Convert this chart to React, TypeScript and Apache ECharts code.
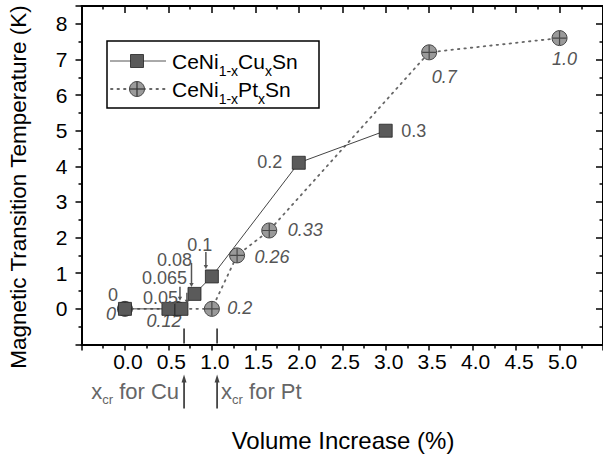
import React, { useEffect, useRef } from 'react';
import * as echarts from 'echarts';

// ---- data ----
const cuConc = ['0', '0.05', '0.065', '0.08', '0.1', '0.2', '0.3'];
const cuX = [0, 0.5, 0.65, 0.8, 1.0, 2.0, 3.0];
const cuT = [0, 0, 0, 0.42, 0.91, 4.1, 5.0];

const ptConc = ['0', '0.12', '0.2', '0.26', '0.33', '0.7', '1.0'];
const ptX = [0, 0.6, 1.0, 1.29, 1.66, 3.5, 5.0];
const ptT = [0, 0, 0, 1.5, 2.2, 7.2, 7.6];

const xcrCu = 0.68;
const xcrPt = 1.06;

// ---- styles (label placement) ----
const cuLabelOffset = [[-12, -14], [-8, -11], [-17, -31], [-20, -34], [-12, -31], [-29, -1], [28, 0]];
const ptLabelOffset = [[-14, 5], [-13, 12], [28, -1], [35, 2], [36, 0], [15, 25], [5, 21]];
// leader arrows for Cu labels: [pointIndex, dx, dyStart, dyEnd]
const cuLeaders = [[1, 18.5, -16, -5], [2, -1.5, -22, -8], [3, -3, -31, -7], [4, -6, -24.5, -7.5]];

const FONT = '"Liberation Sans", Arial, Helvetica, sans-serif';
const LABEL_GRAY = '#555';

const measureCtx = typeof document !== 'undefined' ? document.createElement('canvas').getContext('2d') : null;
function measure(text: string, size: number): number {
  if (!measureCtx) return text.length * size * 0.55;
  measureCtx.font = `${size}px ${FONT}`;
  return measureCtx.measureText(text).width;
}

// builds text pieces with subscripts: parts = [[text, isSub], ...]
function subText(
  parts: [string, boolean][],
  x: number,
  y: number,
  align: 'left' | 'right',
  mainSize: number,
  subSize: number,
  drop: number,
  fill: string,
  z: number
) {
  const widths = parts.map(([t, s]) => measure(t, s ? subSize : mainSize));
  const total = widths.reduce((a, b) => a + b, 0);
  let cx = align === 'left' ? x : x - total;
  const out: any[] = [];
  parts.forEach(([t, s], i) => {
    out.push({
      type: 'text',
      z,
      x: cx,
      y: s ? y + drop : y,
      style: {
        text: t,
        font: `${s ? subSize : mainSize}px ${FONT}`,
        fill,
        align: 'left',
        verticalAlign: 'middle',
      },
    });
    cx += widths[i];
  });
  return out;
}

export default function App() {
  const ref = useRef<HTMLDivElement>(null);
  useEffect(() => {
    if (!ref.current) return;
    const chart = echarts.init(ref.current, undefined, { renderer: 'svg' });

    const axisLine = { show: true, onZero: false, lineStyle: { color: '#000', width: 2 } };
    const xCommon = {
      type: 'value' as const,
      min: -0.5,
      max: 5.5,
      interval: 0.5,
      splitLine: { show: false },
      axisLine,
      minorTick: { show: true, splitNumber: 2, length: 4, lineStyle: { color: '#000', width: 1.5 } },
      minorSplitLine: { show: false },
    };
    const yCommon = {
      type: 'value' as const,
      min: -1,
      max: 8.5,
      interval: 1,
      splitLine: { show: false },
      axisLine,
      minorTick: { show: true, splitNumber: 2, length: 3, lineStyle: { color: '#000', width: 1.5 } },
      minorSplitLine: { show: false },
    };

    chart.setOption({
      animation: false,
      backgroundColor: '#fff',
      grid: { left: 81.5, top: 6, width: 522, height: 338.5, containLabel: false },
      xAxis: [
        {
          ...xCommon,
          position: 'bottom',
          axisTick: { show: true, inside: false, length: 6, lineStyle: { color: '#000', width: 1.5 } },
          axisLabel: {
            show: true,
            margin: 6,
            fontSize: 21,
            fontFamily: FONT,
            color: '#000',
            padding: [0, 0, 0, 6],
            showMinLabel: false,
            showMaxLabel: false,
            formatter: (v: number) => v.toFixed(1),
          },
        },
        {
          ...xCommon,
          position: 'top',
          axisTick: { show: true, inside: true, length: 7, lineStyle: { color: '#000', width: 1.5 } },
          minorTick: { show: true, splitNumber: 2, length: 3.5, lineStyle: { color: '#000', width: 1.5 } },
          axisLabel: { show: false },
        },
      ],
      yAxis: [
        {
          ...yCommon,
          position: 'left',
          axisTick: { show: true, inside: false, length: 6, lineStyle: { color: '#000', width: 1.5 } },
          axisLabel: {
            show: true,
            margin: 14,
            fontSize: 21,
            fontFamily: FONT,
            color: '#000',
            showMinLabel: false,
            showMaxLabel: false,
            formatter: (v: number) => (Number.isInteger(v) ? String(v) : ''),
          },
        },
        {
          ...yCommon,
          position: 'right',
          axisTick: { show: true, inside: true, length: 7, lineStyle: { color: '#000', width: 1.5 } },
          minorTick: { show: true, splitNumber: 2, length: 3.5, lineStyle: { color: '#000', width: 1.5 } },
          axisLabel: { show: false },
        },
      ],
      series: [
        {
          name: 'Pt',
          type: 'line',
          z: 2,
          data: ptX.map((x, i) => ({
            value: [x, ptT[i]],
            label: { offset: ptLabelOffset[i] },
          })),
          symbol: 'circle',
          symbolSize: 15,
          itemStyle: { color: '#9a9a9a', borderColor: '#444', borderWidth: 1 },
          lineStyle: { color: '#666', width: 1.8, type: [1.5, 5], cap: 'round' },
          label: {
            show: true,
            position: 'inside',
            align: 'center',
            verticalAlign: 'middle',
            fontSize: 18,
            fontStyle: 'italic',
            fontFamily: FONT,
            color: LABEL_GRAY,
            formatter: (p: any) => ptConc[p.dataIndex],
          },
        },
        {
          name: 'PtCross',
          type: 'scatter',
          z: 3,
          silent: true,
          data: ptX.map((x, i) => [x, ptT[i]]),
          symbol: 'path://M0,6.4h14v1.2h-14z M6.4,0h1.2v14h-1.2z',
          symbolSize: 14,
          itemStyle: { color: '#333' },
        },
        {
          name: 'Cu',
          type: 'line',
          z: 4,
          data: cuX.map((x, i) => ({
            value: [x, cuT[i]],
            label: { offset: cuLabelOffset[i] },
          })),
          symbol: 'rect',
          symbolSize: 13,
          itemStyle: { color: '#5a5a5a', borderColor: '#222', borderWidth: 0.8 },
          lineStyle: { color: '#444', width: 1 },
          label: {
            show: true,
            position: 'inside',
            align: 'center',
            verticalAlign: 'middle',
            fontSize: 18,
            fontFamily: FONT,
            color: LABEL_GRAY,
            formatter: (p: any) => cuConc[p.dataIndex],
          },
        },
      ],
    });

    // ---- annotations ----
    const toPx = (x: number, y: number) => chart.convertToPixel({ gridIndex: 0 }, [x, y]) as number[];
    const axisY = toPx(0, -1)[1];
    const g: any[] = [];

    // leader arrows
    cuLeaders.forEach(([idx, dx, y0, y1]) => {
      const p = toPx(cuX[idx], cuT[idx]);
      const x = p[0] + dx;
      g.push({
        type: 'line',
        z: 10,
        shape: { x1: x, y1: p[1] + y0, x2: x, y2: p[1] + y1 - 3 },
        style: { stroke: '#555', lineWidth: 1.5 },
      });
      g.push({
        type: 'polygon',
        z: 10,
        shape: { points: [[x - 2.2, p[1] + y1 - 4], [x + 2.2, p[1] + y1 - 4], [x, p[1] + y1]] },
        style: { fill: '#555' },
      });
    });

    // x_cr arrows
    [xcrCu, xcrPt].forEach((xv) => {
      const x = toPx(xv, 0)[0];
      g.push({
        type: 'line',
        z: 10,
        shape: { x1: x, y1: axisY - 16, x2: x, y2: axisY - 1 },
        style: { stroke: '#444', lineWidth: 1.8 },
      });
      g.push({
        type: 'line',
        z: 10,
        shape: { x1: x, y1: axisY + 64, x2: x, y2: axisY + 36 },
        style: { stroke: '#444', lineWidth: 1.8 },
      });
      g.push({
        type: 'polygon',
        z: 10,
        shape: { points: [[x - 2.5, axisY + 38], [x + 2.5, axisY + 38], [x, axisY + 30]] },
        style: { fill: '#444' },
      });
    });

    const xcrCuPx = toPx(xcrCu, 0)[0];
    const xcrPtPx = toPx(xcrPt, 0)[0];
    const xcrY = axisY + 47;
    g.push(
      ...subText([['x', false], ['cr', true], [' for Cu', false]], xcrCuPx - 5, xcrY, 'right', 22, 13, 8, '#666', 10)
    );
    g.push(
      ...subText([['x', false], ['cr', true], [' for Pt', false]], xcrPtPx + 4, xcrY, 'left', 22, 13, 8, '#666', 10)
    );

    // axis titles
    g.push({
      type: 'text',
      z: 10,
      x: 18,
      y: 187,
      rotation: Math.PI / 2,
      style: {
        text: 'Magnetic Transition Temperature (K)',
        font: `22.5px ${FONT}`,
        fill: '#000',
        align: 'center',
        verticalAlign: 'middle',
      },
    });
    g.push({
      type: 'text',
      z: 10,
      x: 343,
      y: 440,
      style: {
        text: 'Volume Increase (%)',
        font: `24px ${FONT}`,
        fill: '#000',
        align: 'center',
        verticalAlign: 'middle',
      },
    });

    // legend
    const lg = { x: 107, y: 41, w: 212, h: 67 };
    g.push({
      type: 'rect',
      z: 20,
      shape: { x: lg.x, y: lg.y, width: lg.w, height: lg.h },
      style: { fill: '#fff', stroke: '#000', lineWidth: 1.5 },
    });
    const r1 = 61;
    const r2 = 89;
    g.push({ type: 'line', z: 21, shape: { x1: 110, y1: r1, x2: 166, y2: r1 }, style: { stroke: '#555', lineWidth: 1 } });
    g.push({
      type: 'rect', z: 22,
      shape: { x: 137 - 6.5, y: r1 - 6.5, width: 13, height: 13 },
      style: { fill: '#5a5a5a', stroke: '#222', lineWidth: 0.8 },
    });
    g.push({
      type: 'line', z: 21, shape: { x1: 111, y1: r2, x2: 166, y2: r2 },
      style: { stroke: '#666', lineWidth: 1.8, lineDash: [1.5, 5], lineCap: 'round' },
    });
    g.push({ type: 'circle', z: 22, shape: { cx: 137, cy: r2, r: 7.5 }, style: { fill: '#9a9a9a', stroke: '#444', lineWidth: 1 } });
    g.push({ type: 'line', z: 23, shape: { x1: 130, y1: r2, x2: 144, y2: r2 }, style: { stroke: '#333', lineWidth: 1.2 } });
    g.push({ type: 'line', z: 23, shape: { x1: 137, y1: r2 - 7, x2: 137, y2: r2 + 7 }, style: { stroke: '#333', lineWidth: 1.2 } });
    g.push(
      ...subText(
        [['CeNi', false], ['1-x', true], ['Cu', false], ['x', true], ['Sn', false]],
        172, r1, 'left', 21, 14, 10, '#000', 22
      )
    );
    g.push(
      ...subText(
        [['CeNi', false], ['1-x', true], ['Pt', false], ['x', true], ['Sn', false]],
        172, r2, 'left', 21, 14, 10, '#000', 22
      )
    );

    chart.setOption({ graphic: g });

    return () => chart.dispose();
  }, []);

  return (
    <div
      ref={ref}
      style={{ position: 'absolute', left: 0, top: 0, width: 603, height: 459, background: '#fff' }}
    />
  );
}
